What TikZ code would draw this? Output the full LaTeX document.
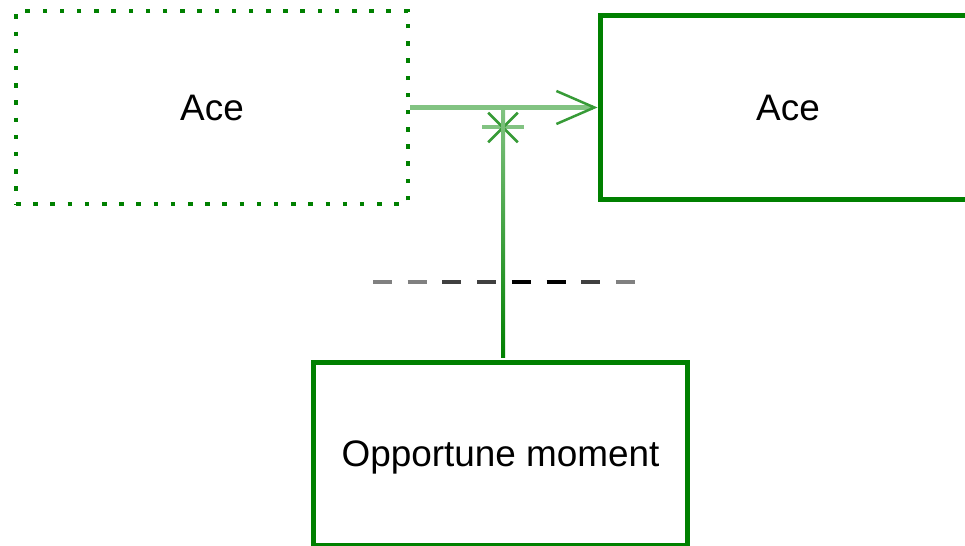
\documentclass[tikz,border=0pt]{standalone}
\usepackage{fontspec}
\setmainfont{Liberation Sans}
\usetikzlibrary{calc,arrows.meta}

\definecolor{boxgreen}{RGB}{0,128,0}
\definecolor{linkgreen}{RGB}{130,195,130}
\definecolor{tipgreen}{RGB}{55,155,55}

\tikzset{
    classbox/.style={draw=boxgreen, line width=0.1cm, text depth=0pt,
        font=\fontsize{21}{25}\selectfont},
    ghostbox/.style={classbox, line width=0.09cm, dash pattern=on 0.09cm off 0.254cm},
    link/.style={linkgreen, line width=0.1cm,
        -{Straight Barb[length=0.76cm, width=0.66cm, line width=0.05cm, color=tipgreen]}},
    starleg/.style={tipgreen, line width=0.05cm},
    cutdash/.style={line width=0.08cm},
}

\begin{document}
\begin{tikzpicture}[x=0.02cm, y=-0.02cm]
    \useasboundingbox (0,0) rectangle (965,546);
    \node[ghostbox, minimum width=7.84cm, minimum height=3.86cm] (src) at (212,107.5) {Ace};
    \node[classbox, minimum width=7.52cm, minimum height=3.7cm] (dst) at (788,107.5) {Ace};
    \node[classbox, minimum width=7.5cm, minimum height=3.68cm] (opp) at (500.5,454) {Opportune moment};
    \draw[link] (src.east) -- (dst.west);
    \coordinate (jn) at ($(opp.north |- src.east)+(2.5,0)$);
    \coordinate (star) at ($(jn)+(0,20)$);
    \draw[linkgreen, line width=0.08cm] ($(star)+(-21,0)$) -- ($(star)+(21,0)$);
    \foreach \a in {45,135}
        \draw[starleg] ($(star)+(\a:21)$) -- ($(star)+(\a+180:21)$);
    \shade[top color=linkgreen, bottom color=boxgreen] ($(jn)+(-2,0)$) rectangle ($(opp.north)+(4.5,-2)$);
    % dashed cut line
    \coordinate (cut) at (373,282);
    \foreach \c [count=\i from 0] in {gray,gray,darkgray,darkgray,black,black,darkgray,gray}
        \draw[cutdash,\c] ($(cut)+(\i*34.7,0)$) -- +(19,0);
\end{tikzpicture}
\end{document}
